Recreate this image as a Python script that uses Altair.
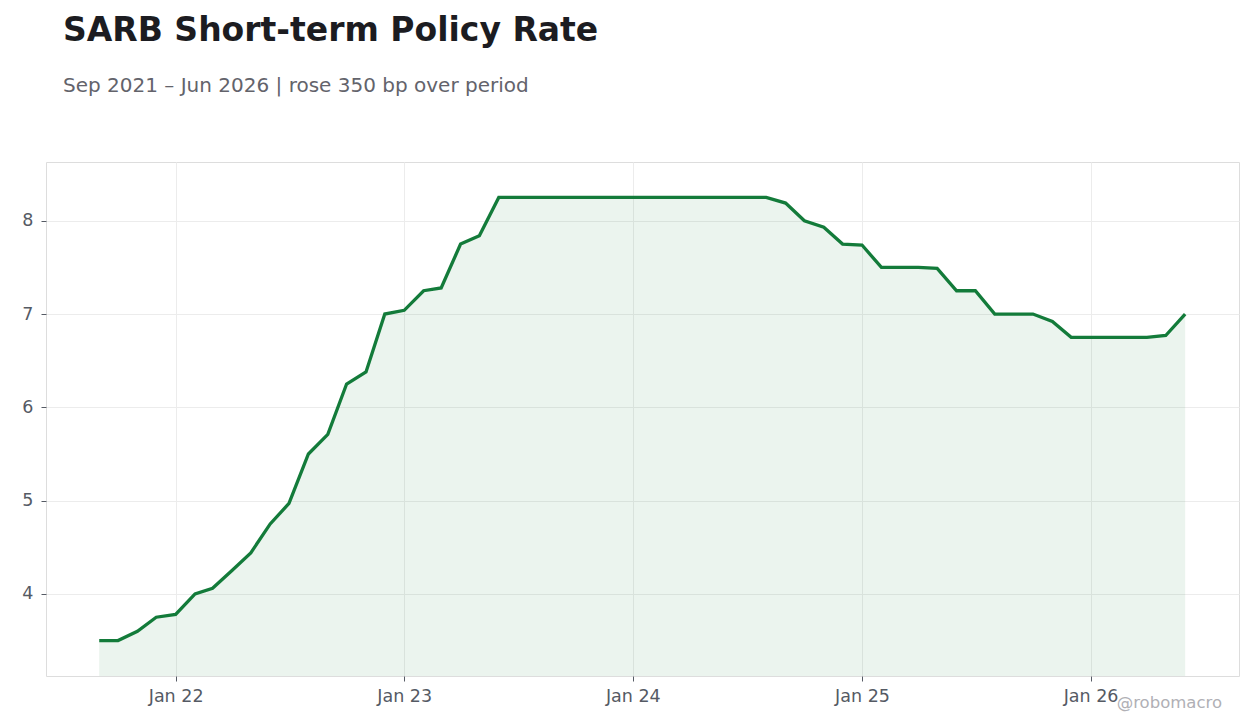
import pandas as pd
import altair as alt

# Monthly SARB policy rate, Sep 2021 - Jun 2026
months = pd.date_range("2021-09-01", "2026-06-01", freq="MS")
rates = [
    3.50, 3.50, 3.60, 3.75,                                           # 2021
    3.78, 4.00, 4.06, 4.25, 4.44, 4.75, 4.97, 5.50, 5.71, 6.25, 6.38, 7.00,  # 2022
    7.04, 7.25, 7.28, 7.75, 7.84, 8.25, 8.25, 8.25, 8.25, 8.25, 8.25, 8.25,  # 2023
    8.25, 8.25, 8.25, 8.25, 8.25, 8.25, 8.25, 8.25, 8.19, 8.00, 7.93, 7.75,  # 2024
    7.74, 7.50, 7.50, 7.50, 7.49, 7.25, 7.25, 7.00, 7.00, 7.00, 6.92, 6.75,  # 2025
    6.75, 6.75, 6.75, 6.75, 6.77, 7.00,                                # 2026
]
x_domain = ["2021-06-08", "2026-08-26"]
y_domain = [3.12, 8.63]

df = pd.DataFrame({"date": months, "rate": rates})

green = "#137b3a"
font = "DejaVu Sans"
W, H = 1193, 514

x = alt.X("date:T", scale=alt.Scale(domain=x_domain), title=None,
          axis=alt.Axis(format="%b %y", tickCount={"interval": "year", "step": 1},
                        labelFontSize=17.5, labelColor="#555a64", labelPadding=6,
                        tickSize=5, tickColor="#555a64", domain=False,
                        gridColor="#ececec", labelFont=font))
y = alt.Y("rate:Q", scale=alt.Scale(domain=y_domain, nice=False, zero=False), title=None,
          axis=alt.Axis(values=[4, 5, 6, 7, 8], format="d", labelFontSize=17.5,
                        labelColor="#555a64", labelPadding=8, tickSize=5,
                        tickColor="#555a64", domain=False,
                        gridColor="#ececec", labelFont=font))

base = alt.Chart(df)
area = base.mark_area(color=green, opacity=0.085).encode(x=x, y=y, y2=alt.datum(3.12))
line = base.mark_line(color=green, strokeWidth=3.3).encode(x="date:T", y="rate:Q")

mark_txt = alt.Chart(pd.DataFrame({"t": ["@robomacro"]})).mark_text(
    align="right", baseline="alphabetic", fontSize=16.5, font=font, color="#b0b0b5"
).encode(text="t:N", x=alt.value(W - 17), y=alt.value(H + 32))

chart = alt.layer(area, line, mark_txt).properties(
    width=W, height=H,
    title=alt.TitleParams(
        "SARB Short-term Policy Rate",
        subtitle="Sep 2021 – Jun 2026 | rose 350 bp over period",
        anchor="start", frame="group", dx=17, offset=66,
        font=font, fontSize=33, fontWeight="bold", color="#1c1c21",
        subtitleFont=font, subtitleFontSize=20, subtitleColor="#63636b",
        subtitlePadding=28,
    ),
    autosize=alt.AutoSizeParams(type="none"),
    padding={"left": 38, "top": 154, "right": 13, "bottom": 50},
).configure_view(stroke="#dcdcdc", strokeWidth=1).configure(background="white")

chart.save("out.html", embed_options={"renderer": "svg", "actions": False})
